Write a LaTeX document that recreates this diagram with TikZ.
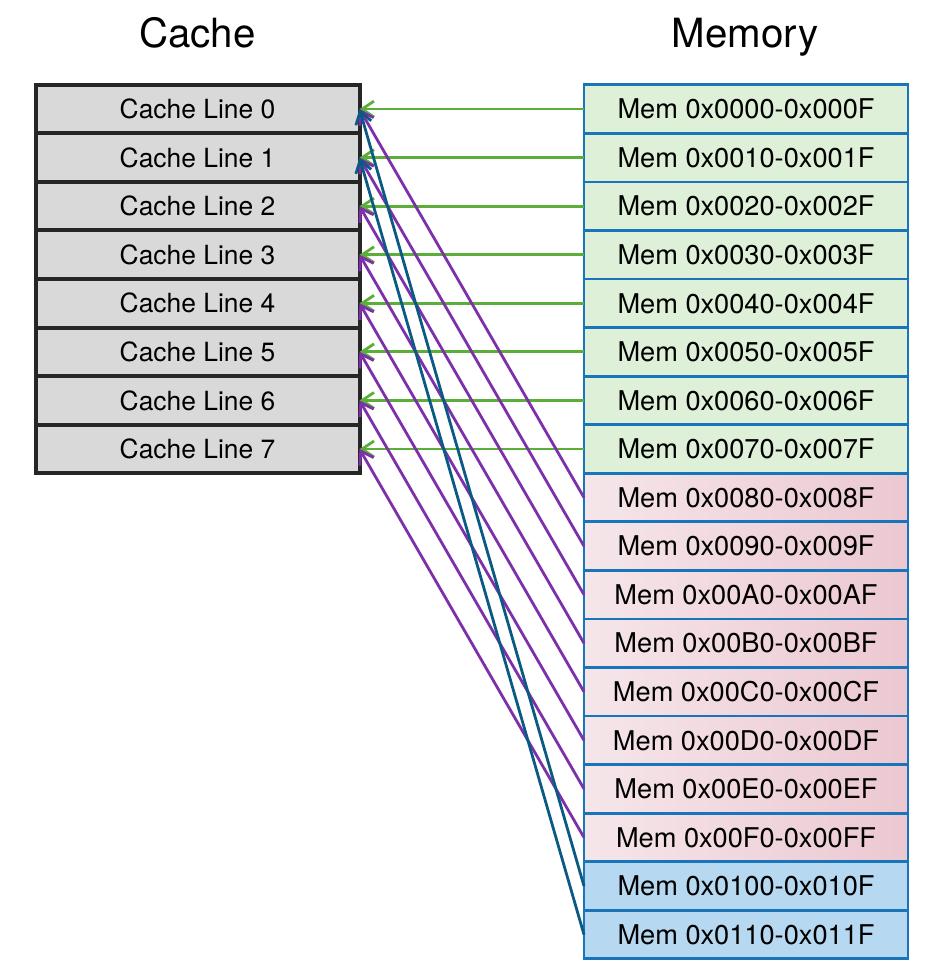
\documentclass[tikz,border=0pt]{standalone}
\usepackage{fontspec}
\setmainfont{TeX Gyre Heros}
\usetikzlibrary{arrows.meta}
\definecolor{cachefill}{RGB}{217,217,217}
\definecolor{cacheline}{RGB}{38,38,38}
\definecolor{memline}{RGB}{24,117,186}
\definecolor{greenfill}{RGB}{223,240,216}
\definecolor{pinkL}{RGB}{245,230,234}
\definecolor{pinkR}{RGB}{236,200,209}
\definecolor{bluefill}{RGB}{182,216,240}
\definecolor{garrow}{RGB}{92,174,59}
\definecolor{parrow}{RGB}{126,47,170}
\definecolor{barrow}{RGB}{11,90,132}
\tikzset{
  cachebox/.style={draw=cacheline, fill=cachefill, line width=3pt, minimum width=243pt, minimum height=36.42pt, inner sep=0pt, outer sep=0pt, font=\fontsize{19.8}{22}\selectfont},
  membox/.style={draw=memline, line width=2.1pt, minimum width=243pt, minimum height=36.42pt, inner sep=0pt, outer sep=0pt, font=\fontsize{20.4}{22}\selectfont},
  gmem/.style={membox, fill=greenfill},
  pmem/.style={membox, left color=pinkL, right color=pinkR},
  bmem/.style={membox, fill=bluefill},
  title/.style={font=\fontsize{30.2}{34}\selectfont, inner sep=0pt, anchor=base},
  conn/.style={line width=2.1pt, -{Straight Barb[length=9pt,width=12pt]}},
  gconn/.style={conn, draw=garrow},
  pconn/.style={conn, draw=parrow},
  bconn/.style={conn, draw=barrow},
}
\begin{document}
\begin{tikzpicture}[x=0.75pt, y=-0.75pt]
\useasboundingbox (0,0) rectangle (940,967);
\node[title] (tc) at (197.5,47.5) {Cache};
\node[title] (tm) at (745,47.5) {Memory};
\foreach \i in {0,...,7} {
  \node[cachebox] (c\i) at (197.5, {84.8+48.56*(\i+0.5)}) {Cache Line \i};
}
\node[gmem] (m0) at (746, {84.8+48.56*0.5}) {Mem 0x0000-0x000F};
\node[gmem] (m1) at (746, {84.8+48.56*1.5}) {Mem 0x0010-0x001F};
\node[gmem] (m2) at (746, {84.8+48.56*2.5}) {Mem 0x0020-0x002F};
\node[gmem] (m3) at (746, {84.8+48.56*3.5}) {Mem 0x0030-0x003F};
\node[gmem] (m4) at (746, {84.8+48.56*4.5}) {Mem 0x0040-0x004F};
\node[gmem] (m5) at (746, {84.8+48.56*5.5}) {Mem 0x0050-0x005F};
\node[gmem] (m6) at (746, {84.8+48.56*6.5}) {Mem 0x0060-0x006F};
\node[gmem] (m7) at (746, {84.8+48.56*7.5}) {Mem 0x0070-0x007F};
\node[pmem] (m8) at (746, {84.8+48.56*8.5}) {Mem 0x0080-0x008F};
\node[pmem] (m9) at (746, {84.8+48.56*9.5}) {Mem 0x0090-0x009F};
\node[pmem] (m10) at (746, {84.8+48.56*10.5}) {Mem 0x00A0-0x00AF};
\node[pmem] (m11) at (746, {84.8+48.56*11.5}) {Mem 0x00B0-0x00BF};
\node[pmem] (m12) at (746, {84.8+48.56*12.5}) {Mem 0x00C0-0x00CF};
\node[pmem] (m13) at (746, {84.8+48.56*13.5}) {Mem 0x00D0-0x00DF};
\node[pmem] (m14) at (746, {84.8+48.56*14.5}) {Mem 0x00E0-0x00EF};
\node[pmem] (m15) at (746, {84.8+48.56*15.5}) {Mem 0x00F0-0x00FF};
\node[bmem] (m16) at (746, {84.8+48.56*16.5}) {Mem 0x0100-0x010F};
\node[bmem] (m17) at (746, {84.8+48.56*17.5}) {Mem 0x0110-0x011F};
\foreach \i in {0,...,7} {
  \draw[gconn] (m\i.west) -- (c\i.east);
}
\foreach \i [evaluate=\i as \j using int(\i+8)] in {0,...,7} {
  \draw[pconn] (m\j.west) -- (c\i.east);
}
\draw[bconn] (m16.west) -- (c0.east);
\draw[bconn] (m17.west) -- (c1.east);
\end{tikzpicture}
\end{document}
